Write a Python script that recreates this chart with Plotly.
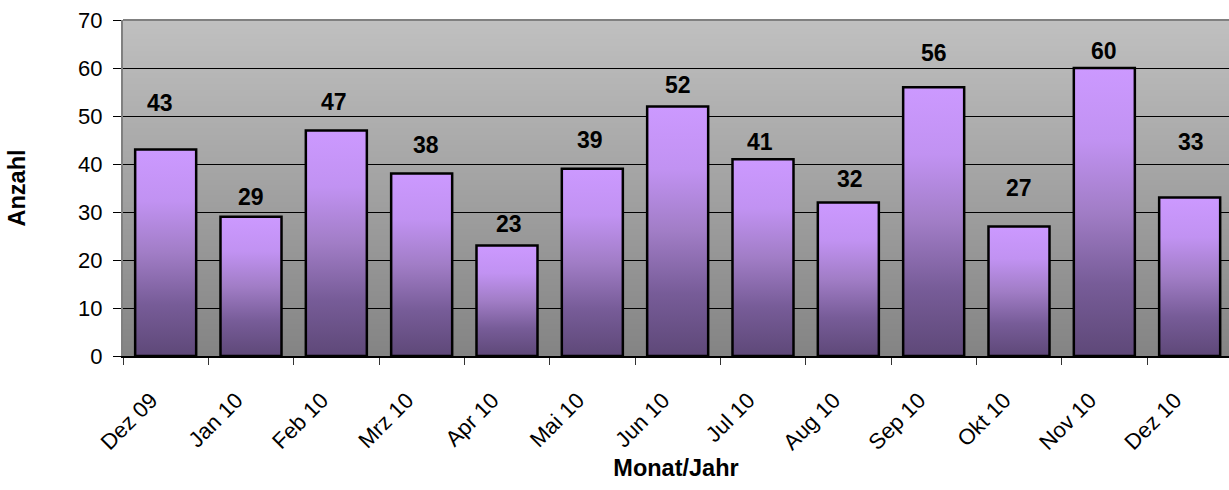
import base64
import struct
import zlib

import plotly.graph_objects as go

# ---------------- data ----------------
months = ["Dez 09", "Jan 10", "Feb 10", "Mrz 10", "Apr 10", "Mai 10", "Jun 10",
          "Jul 10", "Aug 10", "Sep 10", "Okt 10", "Nov 10", "Dez 10"]
counts = [43, 29, 47, 38, 23, 39, 52, 41, 32, 56, 27, 60, 33]
y_ticks = [0, 10, 20, 30, 40, 50, 60, 70]
x_title = "Monat/Jahr"
y_title = "Anzahl"

# ---------------- styling ----------------
FONT = "Liberation Sans, Arial, sans-serif"
BAR_WIDTH = 0.715
X_MIN, X_MAX = -0.5, 12.461
LABEL_SHIFT = 0.17          # tick labels sit slightly left of the category centre
# label placement (Excel's free-floating data labels): lift in axis units, shift in px
label_lift = [9.8, 4.2, 5.9, 6.0, 4.4, 6.0, 4.5, 3.6, 4.9, 7.2, 8.1, 3.6, 11.5]
label_xshift = [-5.5, 0, -2.5, 4.7, 1.7, -2.7, 0, -3, 2, 0, 0, 0, 1.7]
bar_scale = [[0.0, "#5E4878"], [0.25, "#775C98"], [0.5, "#A17DC6"],
             [0.75, "#C192F2"], [1.0, "#CC99FF"]]


def gradient_png(top, bottom, n=256):
    """1px-wide vertical gradient PNG as data URI (plot-area background)."""
    rows = []
    for i in range(n):
        t = i / (n - 1)
        px = bytes(int(round(top[k] + (bottom[k] - top[k]) * t)) for k in range(3))
        rows.append(b"\x00" + px)
    raw = b"".join(rows)

    def chunk(tag, data):
        c = struct.pack(">I", len(data)) + tag + data
        return c + struct.pack(">I", zlib.crc32(tag + data) & 0xFFFFFFFF)

    png = b"\x89PNG\r\n\x1a\n"
    png += chunk(b"IHDR", struct.pack(">IIBBBBB", 1, n, 8, 2, 0, 0, 0))
    png += chunk(b"IDAT", zlib.compress(raw, 9))
    png += chunk(b"IEND", b"")
    return "data:image/png;base64," + base64.b64encode(png).decode()


fig = go.Figure()

# gradient-filled bar bodies (one trace per bar so the gradient runs top->bottom of each)
half = BAR_WIDTH / 2
for i, v in enumerate(counts):
    fig.add_trace(go.Scatter(
        x=[i - half, i + half, i + half, i - half, i - half],
        y=[0, 0, v, v, 0],
        mode="lines", fill="toself",
        fillgradient=dict(type="vertical", colorscale=bar_scale),
        line=dict(width=0, color="rgba(0,0,0,0)"),
        hoverinfo="skip", showlegend=False,
        xaxis="x", yaxis="y",
    ))

# the bars themselves (outlines) on an overlaid axis so they sit above the fills
fig.add_trace(go.Bar(
    x=list(range(len(months))), y=counts, width=BAR_WIDTH,
    marker=dict(color="rgba(0,0,0,0)", line=dict(color="#000000", width=2.5)),
    hovertext=months, showlegend=False,
    xaxis="x2", yaxis="y",
))

# data labels
for i, (v, lift, dx) in enumerate(zip(counts, label_lift, label_xshift)):
    fig.add_annotation(
        x=i, y=v + lift, xref="x", yref="y", text=str(v), showarrow=False,
        xshift=dx, xanchor="center", yanchor="middle",
        font=dict(family=FONT, size=23, color="#000000", weight="bold"),
    )

axis_font = dict(family=FONT, size=22, color="#000000")
title_font = dict(family=FONT, size=23.5, color="#000000", weight="bold")

fig.update_layout(
    width=1229, height=490,
    margin=dict(l=123, r=0, t=20, b=134, autoexpand=False),
    paper_bgcolor="#FFFFFF",
    plot_bgcolor="#A0A0A0",
    showlegend=False,
    xaxis=dict(
        range=[X_MIN, X_MAX],
        tickmode="array",
        tickvals=[k - LABEL_SHIFT for k in range(len(months))], ticktext=months,
        tickangle=-45, tickfont=axis_font,
        ticks="outside", ticklen=4, tickcolor="rgba(0,0,0,0)",
        ticklabelstandoff=17,
        minor=dict(tickmode="array",
                   tickvals=[k - 0.5 for k in range(len(months) + 1)],
                   ticks="outside", ticklen=7, tickcolor="#333333", tickwidth=1,
                   showgrid=False),
        showgrid=False, zeroline=False,
        showline=True, linecolor="#000000", linewidth=1.5,
        title=dict(text=x_title, font=title_font, standoff=6),
        fixedrange=True,
    ),
    xaxis2=dict(
        overlaying="x", matches="x", visible=False, range=[X_MIN, X_MAX],
    ),
    yaxis=dict(
        range=[0, 70], tickmode="array", tickvals=y_ticks,
        tickfont=axis_font,
        ticks="outside", ticklen=8, tickcolor="#000000", tickwidth=1,
        ticklabelstandoff=6,
        showgrid=True, gridcolor="#000000", gridwidth=1,
        zeroline=False,
        showline=True, linecolor="#808080", linewidth=2,
        title=dict(text=y_title, font=title_font, standoff=46),
        fixedrange=True,
    ),
    images=[dict(
        source=gradient_png((0xC0, 0xC0, 0xC0), (0x84, 0x84, 0x84)),
        xref="paper", yref="paper", x=0, y=1, sizex=1, sizey=1,
        xanchor="left", yanchor="top", sizing="stretch", layer="below",
    )],
    shapes=[dict(
        type="line", xref="paper", yref="paper", x0=0, x1=1, y0=1, y1=1,
        line=dict(color="#808080", width=2), layer="above",
    )],
)

fig.write_html(
    "out.html",
    config={"displayModeBar": False},
    post_script="document.body.style.margin='0';document.body.style.overflow='hidden';",
)
